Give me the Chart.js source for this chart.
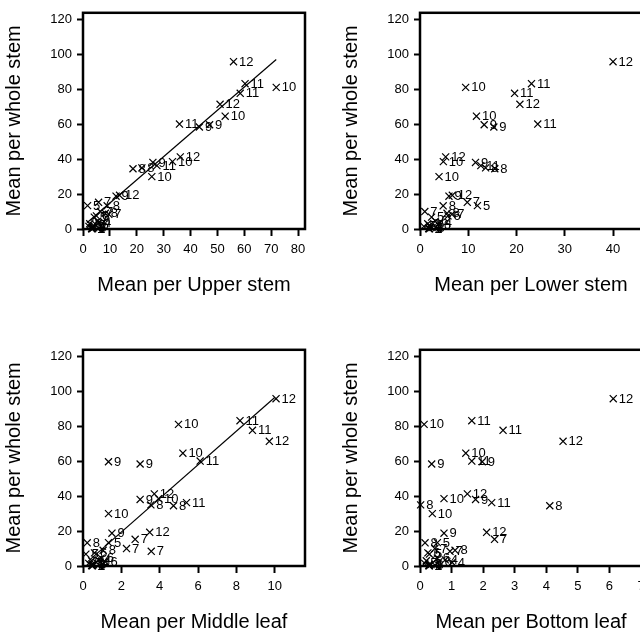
<!DOCTYPE html>
<html><head><meta charset="utf-8">
<script src="https://cdn.jsdelivr.net/npm/chart.js@4.4.1/dist/chart.umd.min.js"></script>
<style>
html,body{margin:0;padding:0;background:#fff;overflow:hidden;width:640px;height:632px;position:relative}
.cell{position:absolute;width:337px;height:337px}
canvas{display:block}
</style></head><body>
<div class="cell" style="left:0;top:0"><canvas id="c1" width="337" height="337"></canvas></div>
<div class="cell" style="left:337px;top:0"><canvas id="c2" width="337" height="337"></canvas></div>
<div class="cell" style="left:0;top:337px"><canvas id="c3" width="337" height="337"></canvas></div>
<div class="cell" style="left:337px;top:337px"><canvas id="c4" width="337" height="337"></canvas></div>
<script>
// month label of each observation
const months = [12,11,10,11,12,10,11,9,9, 12,10,9,11,8,8,10, 12,9,7,5,8,7,7,8,6,5,6,4,3,2,1,6,5,3,2,4,1];
// mean per whole stem (y of every panel)
const wholeStem = [95.8,83.2,81.1,77.7,71.4,64.6,60.1,59.7,58.4, 41.3,38.6,38.1,36.3,35.0,34.5,30.0, 19.3,18.8,15.3,13.4,13.3,10.0,8.4,9.0,4.5,6.8,7.5,2.0,3.0,1.0,0.3,2.5,1.5,0.8,0.2,3.5,0.1];
const upperStem = [56.0,60.3,71.9,58.5,51.0,52.9,35.9,47.1,43.3, 36.2,33.3,26.0,27.5,21.9,18.6,25.6, 13.6,12.3,5.8,1.7,9.0,6.5,9.6,8.3,5.5,4.2,5.0,3.8,2.5,3.5,3.2,4.8,2.2,4.0,3.6,5.8,3.3];
const lowerStem = [40.0,23.1,9.46,19.6,20.7,11.7,24.4,13.3,15.3, 5.32,4.84,11.5,12.6,13.6,15.5,3.94, 6.7,6.0,9.8,11.9,4.8,1.0,6.6,5.6,3.2,2.4,5.8,2.0,1.6,2.2,1.8,3.8,0.8,2.5,2.0,4.0,1.9];
const middleLeaf = [10.07,8.19,4.98,8.84,9.72,5.21,6.11,1.33,2.98, 3.72,3.94,2.98,5.40,3.54,4.72,1.33, 3.48,1.51,2.72,1.33,0.22,2.27,3.56,1.05,0.95,0.15,0.6,0.7,0.45,0.5,0.45,1.15,0.3,0.55,0.5,0.8,0.48];
const bottomLeaf = [6.12,1.64,0.13,2.63,4.53,1.45,1.64,1.97,0.37, 1.50,0.76,1.76,2.27,0.02,4.11,0.39, 2.11,0.76,2.36,0.55,0.16,0.47,0.95,1.11,0.55,0.30,0.25,1.02,0.2,0.3,0.28,0.6,0.15,0.35,0.3,0.8,0.29];
// fitted regression lines (end points)
const upperFitX = [1.5, 71.9];
const upperFitY = [3.6, 97.1];
const middleFitX = [0.2, 10.0];
const middleFitY = [2.1, 96.5];
const yTitle = 'Mean per whole stem';

Chart.defaults.font.family = "'Liberation Sans', Arial, Helvetica, sans-serif";
Chart.defaults.color = '#000';

const framePlugin = {
  id: 'frame',
  beforeDatasetsDraw(chart) {
    const {ctx, chartArea: a} = chart;
    ctx.save();
    ctx.strokeStyle = '#000';
    ctx.lineWidth = 2.5;
    ctx.strokeRect(a.left, a.top, a.right - a.left, a.bottom - a.top);
    ctx.restore();
  }
};
const labelPlugin = {
  id: 'ptlabels',
  afterDatasetsDraw(chart) {
    const {ctx} = chart;
    const meta = chart.getDatasetMeta(0);
    ctx.save();
    ctx.font = "13px 'Liberation Sans', Arial, sans-serif";
    ctx.fillStyle = '#000';
    ctx.textBaseline = 'middle';
    ctx.textAlign = 'left';
    meta.data.forEach((el, i) => {
      ctx.fillText(String(months[i]), el.x + 5.5, el.y + 0.5);
    });
    ctx.restore();
  }
};

function makePanel(id, xs, xMax, step, title, fitX, fitY) {
  const datasets = [{
    type: 'scatter',
    data: xs.map((x, i) => ({x: x, y: wholeStem[i]})),
    pointStyle: 'crossRot',
    pointRadius: 5,
    pointBorderWidth: 1.2,
    pointBorderColor: '#000',
    pointBackgroundColor: '#000',
    clip: false
  }];
  if (fitX) {
    datasets.push({
      type: 'line',
      data: fitX.map((x, i) => ({x: x, y: fitY[i]})),
      borderColor: '#000',
      borderWidth: 1.2,
      pointRadius: 0,
      fill: false,
      tension: 0
    });
  }
  new Chart(document.getElementById(id), {
    data: {datasets},
    plugins: [framePlugin, labelPlugin],
    options: {
      responsive: false,
      animation: false,
      events: [],
      layout: {padding: {left: 0, top: 5, right: 32, bottom: 0}},
      plugins: {legend: {display: false}, tooltip: {enabled: false}},
      scales: {
        x: {
          type: 'linear', position: 'bottom', min: 0, max: xMax,
          border: {display: false},
          grid: {drawOnChartArea: false, drawTicks: true, tickLength: 7, tickWidth: 2, tickColor: '#000'},
          ticks: {stepSize: step, includeBounds: false, padding: 6, font: {size: 13}, color: '#000', maxRotation: 0},
          title: {display: true, text: title, font: {size: 20}, color: '#000', padding: {top: 0, bottom: 40}},
          afterFit(axis) { axis.height = 108; }
        },
        y: {
          type: 'linear', position: 'left', min: 0, max: 123.8,
          border: {display: false},
          grid: {drawOnChartArea: false, drawTicks: true, tickLength: 6, tickWidth: 2, tickColor: '#000'},
          ticks: {stepSize: 20, includeBounds: false, padding: 5, font: {size: 13}, color: '#000'},
          title: {display: true, text: yTitle, font: {size: 20}, color: '#000', padding: {top: 2, bottom: 0}},
          afterFit(axis) { axis.width = 83; }
        }
      }
    }
  });
}

makePanel('c1', upperStem, 82.6, 10, 'Mean per Upper stem', upperFitX, upperFitY);
makePanel('c2', lowerStem, 46, 10, 'Mean per Lower stem');
makePanel('c3', middleLeaf, 11.58, 2, 'Mean per Middle leaf', middleFitX, middleFitY);
makePanel('c4', bottomLeaf, 7.03, 1, 'Mean per Bottom leaf');
</script>
</body></html>
